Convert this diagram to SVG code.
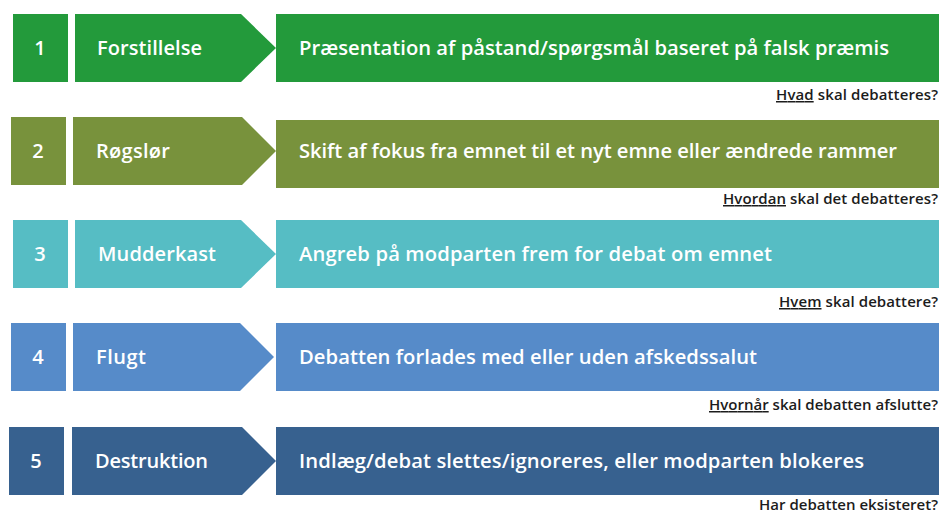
<svg xmlns="http://www.w3.org/2000/svg" width="939" height="514" viewBox="0 0 939 514">
<style>
.num{font-family:"Open Sans","Liberation Sans",sans-serif;font-weight:600;font-size:20px;fill:#fff;text-anchor:middle}
.lbl{font-family:"Open Sans","Liberation Sans",sans-serif;font-weight:600;font-size:20px;fill:#fff}
.main{font-family:"Open Sans","Liberation Sans",sans-serif;font-weight:600;font-size:20.2px;fill:#fff}
.cap{font-family:"Open Sans","Liberation Sans",sans-serif;font-weight:600;font-size:15px;fill:#1c1c1c;text-anchor:end}
.u{text-decoration:underline}
.r1{fill:#239a3b}.r2{fill:#78923c}.r3{fill:#56bdc4}.r4{fill:#568bc9}.r5{fill:#37618f}
</style>
<rect width="939" height="514" fill="#fff"/>
<g id="row1">
<rect class="r1" x="13" y="14" width="55" height="68"/>
<polygon class="r1" points="75,14 241,14 276,48 241,82 75,82"/>
<rect class="r1" x="276" y="14" width="663" height="68"/>
<text class="num" x="40" y="55">1</text>
<text class="lbl" x="97" y="55" textLength="105">Forstillelse</text>
<text class="main" x="299" y="55" textLength="590">Præsentation af påstand/spørgsmål baseret på falsk præmis</text>
<text class="cap" x="938" y="100" textLength="162"><tspan class="u">Hvad</tspan> skal debatteres?</text>
</g>
<g id="row2">
<rect class="r2" x="11" y="117" width="55" height="68"/>
<polygon class="r2" points="73,117 242,117 276,151 242,185 73,185"/>
<rect class="r2" x="276" y="120" width="663" height="68"/>
<text class="num" x="38" y="158">2</text>
<text class="lbl" x="96" y="158" textLength="74">Røgslør</text>
<text class="main" x="299" y="158" textLength="598">Skift af fokus fra emnet til et nyt emne eller ændrede rammer</text>
<text class="cap" x="938" y="204" textLength="215"><tspan class="u">Hvordan</tspan> skal det debatteres?</text>
</g>
<g id="row3">
<rect class="r3" x="13" y="220" width="55" height="68"/>
<polygon class="r3" points="75,220 241,220 276,254 241,288 75,288"/>
<rect class="r3" x="276" y="220" width="663" height="68"/>
<text class="num" x="40" y="261">3</text>
<text class="lbl" x="98" y="261" textLength="118">Mudderkast</text>
<text class="main" x="299" y="261" textLength="473">Angreb på modparten frem for debat om emnet</text>
<text class="cap" x="938" y="307" textLength="159"><tspan class="u">Hvem</tspan> skal debattere?</text>
</g>
<g id="row4">
<rect class="r4" x="11" y="323" width="55" height="68"/>
<polygon class="r4" points="73,323 240,323 274,357 240,391 73,391"/>
<rect class="r4" x="276" y="323" width="663" height="68"/>
<text class="num" x="38" y="364">4</text>
<text class="lbl" x="96" y="364" textLength="50">Flugt</text>
<text class="main" x="299" y="364" textLength="458">Debatten forlades med eller uden afskedssalut</text>
<text class="cap" x="938" y="410" textLength="229"><tspan class="u">Hvornår</tspan> skal debatten afslutte?</text>
</g>
<g id="row5">
<rect class="r5" x="9" y="427" width="55" height="68"/>
<polygon class="r5" points="72,427 242,427 276,461 242,495 72,495"/>
<rect class="r5" x="276" y="427" width="663" height="68"/>
<text class="num" x="36" y="468">5</text>
<text class="lbl" x="95" y="468" textLength="113">Destruktion</text>
<text class="main" x="299" y="468" textLength="565">Indlæg/debat slettes/ignoreres, eller modparten blokeres</text>
<text class="cap" x="938" y="510" textLength="179">Har debatten eksisteret?</text>
</g>
<g id="connectors"/>
</svg>
